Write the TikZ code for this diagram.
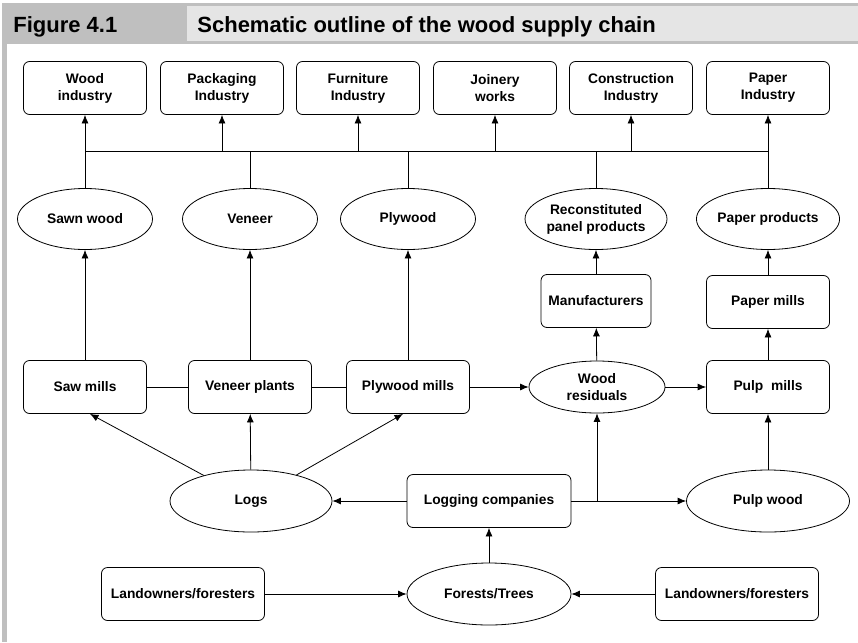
\documentclass[tikz,border=0pt]{standalone}
\usepackage{fontspec}
\setmainfont{Liberation Sans}
\usetikzlibrary{shapes.geometric,arrows.meta}

\newcommand{\lbl}{\fontsize{13.8}{17}\selectfont\bfseries}
\newcommand{\ttl}{\fontsize{22}{24}\selectfont\bfseries}
\tikzset{
  box/.style={draw,rounded corners=6pt,minimum width=123pt,minimum height=53pt,inner sep=0pt,align=center,font=\lbl},
  oval/.style={draw,ellipse,minimum width=135pt,minimum height=61pt,inner sep=0pt,align=center,font=\lbl},
}

\begin{document}
\begin{tikzpicture}[x=1pt,y=-1pt,line width=0.8pt,>={Latex[length=8.5pt,width=7pt]}]
\useasboundingbox (0,0) rectangle (858,642);
%Заголовок
\fill[gray!50] (2,3) rectangle (858,44);
\fill[gray!20] (187,6) rectangle (858,41);
\fill[gray!50] (2,44) rectangle (7,642);
\node[anchor=base west,font=\ttl,inner sep=0pt] (fig) at (13,33) {Figure 4.1};
\node[anchor=base west,font=\ttl,inner sep=0pt] (title) at (197,33) {Schematic outline of the wood supply chain};
%Отрасли
\node[box] (wood) at (85,88) {Wood\\industry};
\node[box] (pack) at (222,88) {Packaging\\Industry};
\node[box] (furn) at (358,88) {Furniture\\Industry};
\node[box] (join) at (495,88) {Joinery\\works};
\node[box] (cons) at (631,88) {Construction\\Industry};
\node[box] (papind) at (768,88) {Paper\\Industry};
%Продукция
\node[oval] (sawn) at (85,219) {Sawn wood};
\node[oval] (ven) at (250,219) {Veneer};
\node[oval] (ply) at (408,219) {Plywood};
\node[oval,minimum width=142pt] (recon) at (596,219) {Reconstituted\\panel products};
\node[oval] (paprod) at (768,219) {Paper products};
\node[box,minimum width=110pt] (manuf) at (596,301) {Manufacturers};
\node[box] (papmill) at (768,302) {Paper mills};
%Переработка
\node[box] (sawm) at (85,387) {Saw mills};
\node[box] (vplant) at (250,387) {Veneer plants};
\node[box] (plym) at (408,387) {Plywood mills};
\node[oval,minimum width=136pt,minimum height=52pt] (resid) at (597,387) {Wood\\residuals};
\node[box] (pulpm) at (768,387) {Pulp\ \ mills};
%Заготовка
\node[oval,minimum width=162pt,minimum height=62pt] (logs) at (251,501) {Logs};
\node[box,minimum width=164pt] (logco) at (489,501) {Logging companies};
\node[oval,minimum width=163pt,minimum height=62pt] (pulpw) at (768,501) {Pulp wood};
\node[box,minimum width=163pt] (landl) at (183,594) {Landowners/foresters};
\node[oval,minimum width=164pt,minimum height=62pt] (forest) at (489,594) {Forests/Trees};
\node[box,minimum width=163pt] (landr) at (737,594) {Landowners/foresters};
%Шина к отраслям
\coordinate (busl) at (85,151);
\coordinate (busr) at (768,151);
\draw (busl) -- (busr);
\foreach \n in {sawn,ven,ply,recon,paprod} \draw (\n) -- (\n |- busl);
\foreach \n in {wood,pack,furn,join,cons,papind} \draw[->] (\n |- busl) -- (\n);
%Связи
\draw[->] (sawm) -- (sawn);
\draw[->] (vplant) -- (ven);
\draw[->] (plym) -- (ply);
\draw (sawm) -- (vplant) -- (plym);
\draw[->] (plym) -- (resid);
\draw[->] (resid) -- (pulpm);
\draw[->] (resid) -- (manuf);
\draw[->] (manuf) -- (recon);
\draw[->] (pulpm) -- (papmill);
\draw[->] (papmill) -- (paprod);
\draw[->] (logs) -- ([xshift=5pt]sawm.south);
\draw[->] (logs) -- (vplant);
\draw[->] (logs) -- ([xshift=-5pt]plym.south);
\draw[->] (logco) -- (logs);
\draw[->] (logco) -- (pulpw);
\draw[->] (logco -| resid) -- (resid);
\draw[->] (pulpw) -- (pulpm);
\draw[->] (landl) -- (forest);
\draw[->] (landr) -- (forest);
\draw[->] (forest) -- (logco);
\end{tikzpicture}
\end{document}
